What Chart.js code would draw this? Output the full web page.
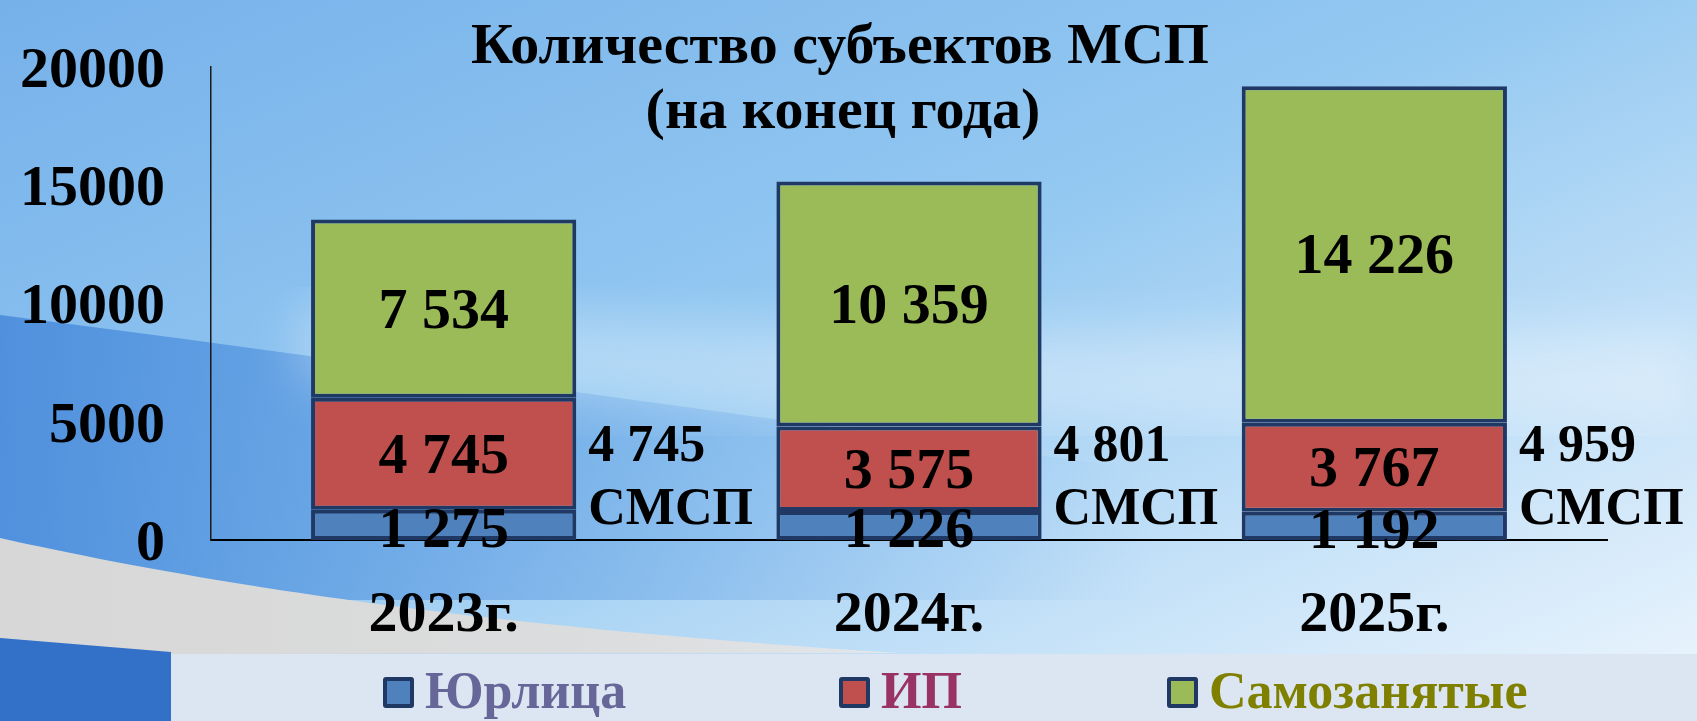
<!DOCTYPE html>
<html><head><meta charset="utf-8">
<script src="https://cdn.jsdelivr.net/npm/chart.js@4.4.1/dist/chart.umd.min.js"></script>
<style>
html,body{margin:0;padding:0;width:1697px;height:721px;overflow:hidden;background:#9ccbf2;}
#bg{position:absolute;left:0;top:0;}
#wrap{position:absolute;left:0;top:0;width:1697px;height:721px;}
</style></head><body>
<svg id="bg" width="1697" height="721" xmlns="http://www.w3.org/2000/svg">
<defs>
 <linearGradient id="base" x1="0" y1="0" x2="1" y2="1">
   <stop offset="0" stop-color="#76B1EA"/>
   <stop offset="0.45" stop-color="#93C8F1"/>
   <stop offset="0.75" stop-color="#C6E2F8"/>
   <stop offset="1" stop-color="#EEF6FD"/>
 </linearGradient>
 <linearGradient id="dark" x1="0" y1="0" x2="1" y2="0">
   <stop offset="0" stop-color="#4D8EDC" stop-opacity="0.95"/>
   <stop offset="0.55" stop-color="#5E9EE3" stop-opacity="0.45"/>
   <stop offset="1" stop-color="#6AA8E8" stop-opacity="0"/>
 </linearGradient>
 <linearGradient id="gray" x1="0" y1="0" x2="1" y2="0">
   <stop offset="0" stop-color="#D7D7D7"/><stop offset="0.7" stop-color="#DCDDDE"/><stop offset="1" stop-color="#E2E7EC"/>
 </linearGradient>
 <filter id="blur"><feGaussianBlur stdDeviation="25"/></filter>
</defs>
<rect width="1697" height="721" fill="url(#base)"/>
<path d="M0,315 C350,360 700,410 1150,470 L1150,600 L0,600 Z" fill="url(#dark)"/>
<path d="M300,300 C700,330 1200,340 1697,330 L1697,420 C1200,430 700,420 300,380 Z" fill="#fff" opacity="0.3" filter="url(#blur)"/>
<path d="M0,538 C180,578 450,625 900,653 L171,654 L0,638 Z" fill="url(#gray)"/>
<path d="M0,638 L171,652 L171,721 L0,721 Z" fill="#3370C8"/>
<rect x="171" y="654" width="1526" height="67" fill="#DCE6F2"/>
</svg>
<div id="wrap"><canvas id="c" width="1697" height="721"></canvas></div>
<script>
const categories = ['2023г.', '2024г.', '2025г.'];
const seriesNames = ['Юрлица', 'ИП', 'Самозанятые'];
const legalEntities = [1275, 1226, 1192];
const individualEntrepreneurs = [4745, 3575, 3767];
const selfEmployed = [7534, 10359, 14226];
const smspTotals = [4745, 4801, 4959];
const smspUnit = 'СМСП';
const yTicks = [0, 5000, 10000, 15000, 20000];
const titleLines = ['Количество субъектов МСП', '(на конец года)'];

const FONT = '"Liberation Serif","Times New Roman",Times,serif';
const fillColors = ['#4F81BD', '#C0504D', '#9BBB59'];
const legendTextColors = ['#666699', '#993366', '#808000'];
const edge = '#1F3864';

const fmt = v => String(v).replace(/\B(?=(\d{3})+(?!\d))/g, ' ');

const overlay = {
  id: 'overlay',
  afterDatasetsDraw(chart) {
    const ctx = chart.ctx;
    const yScale = chart.scales.y;
    ctx.save();
    ctx.fillStyle = '#000';
    ctx.textAlign = 'center';
    ctx.textBaseline = 'middle';
    ctx.font = 'bold 58px ' + FONT;
    chart.data.datasets.forEach((ds, di) => {
      const meta = chart.getDatasetMeta(di);
      meta.data.forEach((el, i) => {
        const y = (el.y + el.base) / 2 + (di === 0 ? 7 : 4);
        ctx.fillText(fmt(ds.data[i]), el.x, y);
      });
    });
    ctx.textAlign = 'left';
    ctx.font = 'bold 52px ' + FONT;
    const zero = yScale.getPixelForValue(0);
    const meta1 = chart.getDatasetMeta(1);
    meta1.data.forEach((el, i) => {
      const x = el.x + el.width / 2 + 12;
      ctx.fillText(fmt(smspTotals[i]), x, zero - 92);
      ctx.fillText(smspUnit, x, zero - 29);
    });
    ctx.restore();
  },
  afterDraw(chart) {
    const ctx = chart.ctx;
    ctx.save();
    ctx.fillStyle = '#000';
    ctx.textAlign = 'center';
    ctx.textBaseline = 'alphabetic';
    ctx.font = 'bold 58px ' + FONT;
    ctx.fillText(titleLines[0], 840, 63);
    ctx.fillText(titleLines[1], 843, 128);
    const boxX = [383, 839, 1167];
    ctx.font = 'bold 52px ' + FONT;
    ctx.textBaseline = 'middle';
    ctx.textAlign = 'left';
    chart.data.datasets.forEach((ds, i) => {
      const bx = boxX[i], by = 677, s = 31;
      ctx.fillStyle = ds.borderColor;
      ctx.beginPath();
      ctx.roundRect(bx, by, s, s, 3);
      ctx.fill();
      ctx.fillStyle = ds.backgroundColor;
      ctx.fillRect(bx + 4, by + 4, s - 8, s - 8);
      ctx.fillStyle = legendTextColors[i];
      ctx.fillText(ds.label, bx + 42, 695);
    });
    ctx.restore();
  }
};

const seriesData = [legalEntities, individualEntrepreneurs, selfEmployed];

new Chart(document.getElementById('c'), {
  type: 'bar',
  data: {
    labels: categories,
    datasets: seriesNames.map((name, i) => ({
      label: name,
      data: seriesData[i],
      backgroundColor: fillColors[i],
      borderColor: edge,
      borderWidth: 4,
      borderSkipped: false,
      categoryPercentage: 1,
      barPercentage: 0.57
    }))
  },
  options: {
    responsive: false,
    animation: false,
    devicePixelRatio: 1,
    layout: { padding: { top: 67, left: 18, right: 90, bottom: 81 } },
    scales: {
      x: {
        stacked: true,
        grid: { display: false, drawTicks: false },
        border: { display: true, color: '#000', width: 2 },
        ticks: { font: { family: FONT, size: 58, weight: 'bold' }, color: '#000', padding: 41 },
        afterFit(s) { s.height = 100; }
      },
      y: {
        stacked: true,
        min: 0,
        max: 20000,
        afterBuildTicks(s) { s.ticks = yTicks.map(v => ({ value: v })); },
        grid: { display: false, drawTicks: false },
        border: { display: true, color: '#1a1a1a', width: 1.5 },
        ticks: { font: { family: FONT, size: 58, weight: 'bold' }, color: '#000', padding: 46, labelOffset: 5, callback: v => String(v) },
        afterFit(s) { s.width = 193; s.paddingTop = 0; s.paddingBottom = 0; }
      }
    },
    plugins: { legend: { display: false }, title: { display: false }, tooltip: { enabled: false } }
  },
  plugins: [overlay]
});
</script>
</body></html>
